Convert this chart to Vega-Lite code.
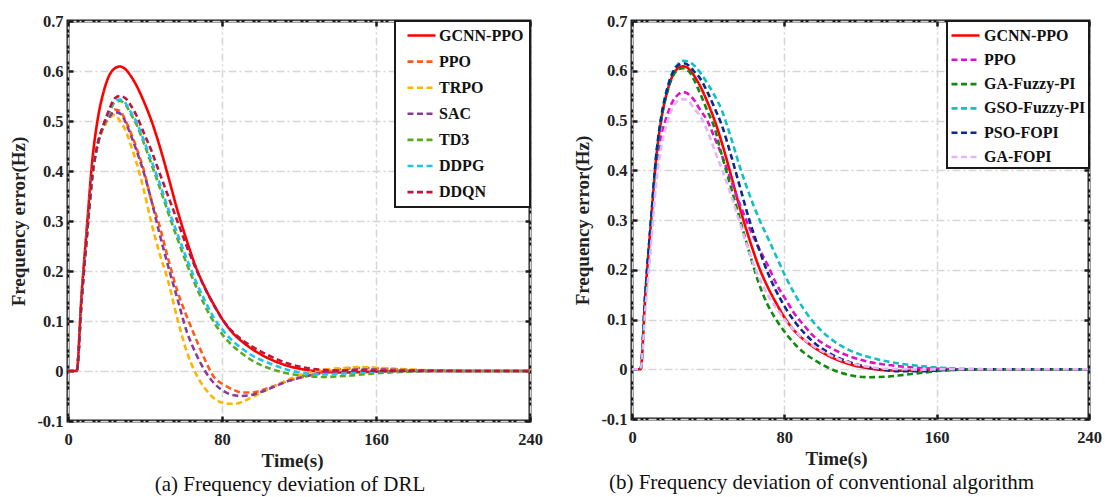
{
  "$schema": "https://vega.github.io/schema/vega-lite/v6.json",
  "background": "white",
  "padding": {"left": 8, "top": 11, "right": 2, "bottom": 2},
  "bounds": "flush",
  "spacing": 102,
  "datasets": {
    "a": [
      {"t":0,"GCNN-PPO":0,"PPO":0,"TRPO":0,"SAC":0,"TD3":0,"DDPG":0,"DDQN":0},
      {"t":4.5,"GCNN-PPO":0,"PPO":0,"TRPO":0,"SAC":0,"TD3":0,"DDPG":0,"DDQN":0},
      {"t":7,"GCNN-PPO":0.15,"PPO":0.14,"TRPO":0.14,"SAC":0.14,"TD3":0.14,"DDPG":0.14,"DDQN":0.14},
      {"t":10,"GCNN-PPO":0.297,"PPO":0.28,"TRPO":0.28,"SAC":0.28,"TD3":0.28,"DDPG":0.28,"DDQN":0.28},
      {"t":12.6,"GCNN-PPO":0.42,"PPO":0.39,"TRPO":0.39,"SAC":0.39,"TD3":0.39,"DDPG":0.39,"DDQN":0.39},
      {"t":15.5,"GCNN-PPO":0.505,"PPO":0.455,"TRPO":0.455,"SAC":0.455,"TD3":0.455,"DDPG":0.455,"DDQN":0.455},
      {"t":18.4,"GCNN-PPO":0.557,"PPO":0.49,"TRPO":0.485,"SAC":0.49,"TD3":0.49,"DDPG":0.49,"DDQN":0.492},
      {"t":21.3,"GCNN-PPO":0.59,"PPO":0.51,"TRPO":0.505,"SAC":0.507,"TD3":0.515,"DDPG":0.518,"DDQN":0.522},
      {"t":24.2,"GCNN-PPO":0.605,"PPO":0.523,"TRPO":0.512,"SAC":0.518,"TD3":0.537,"DDPG":0.54,"DDQN":0.545},
      {"t":27,"GCNN-PPO":0.609,"PPO":0.52,"TRPO":0.5,"SAC":0.515,"TD3":0.54,"DDPG":0.543,"DDQN":0.55},
      {"t":30,"GCNN-PPO":0.603,"PPO":0.5,"TRPO":0.48,"SAC":0.497,"TD3":0.532,"DDPG":0.535,"DDQN":0.545},
      {"t":32.8,"GCNN-PPO":0.589,"PPO":0.475,"TRPO":0.45,"SAC":0.47,"TD3":0.513,"DDPG":0.517,"DDQN":0.53},
      {"t":35.7,"GCNN-PPO":0.57,"PPO":0.445,"TRPO":0.415,"SAC":0.44,"TD3":0.492,"DDPG":0.497,"DDQN":0.51},
      {"t":39.5,"GCNN-PPO":0.538,"PPO":0.4,"TRPO":0.36,"SAC":0.395,"TD3":0.455,"DDPG":0.46,"DDQN":0.475},
      {"t":43.4,"GCNN-PPO":0.5,"PPO":0.34,"TRPO":0.295,"SAC":0.34,"TD3":0.413,"DDPG":0.42,"DDQN":0.44},
      {"t":47.2,"GCNN-PPO":0.455,"PPO":0.295,"TRPO":0.24,"SAC":0.28,"TD3":0.372,"DDPG":0.38,"DDQN":0.4},
      {"t":52,"GCNN-PPO":0.39,"PPO":0.225,"TRPO":0.18,"SAC":0.21,"TD3":0.317,"DDPG":0.325,"DDQN":0.35},
      {"t":56.8,"GCNN-PPO":0.322,"PPO":0.16,"TRPO":0.105,"SAC":0.145,"TD3":0.265,"DDPG":0.275,"DDQN":0.3},
      {"t":61.6,"GCNN-PPO":0.262,"PPO":0.11,"TRPO":0.04,"SAC":0.08,"TD3":0.215,"DDPG":0.225,"DDQN":0.25},
      {"t":66.4,"GCNN-PPO":0.208,"PPO":0.065,"TRPO":-0.005,"SAC":0.035,"TD3":0.17,"DDPG":0.18,"DDQN":0.205},
      {"t":71.2,"GCNN-PPO":0.166,"PPO":0.022,"TRPO":-0.035,"SAC":0,"TD3":0.13,"DDPG":0.14,"DDQN":0.165},
      {"t":76,"GCNN-PPO":0.131,"PPO":-0.013,"TRPO":-0.055,"SAC":-0.025,"TD3":0.096,"DDPG":0.105,"DDQN":0.13},
      {"t":80.8,"GCNN-PPO":0.1,"PPO":-0.027,"TRPO":-0.064,"SAC":-0.04,"TD3":0.07,"DDPG":0.08,"DDQN":0.1},
      {"t":85.6,"GCNN-PPO":0.076,"PPO":-0.037,"TRPO":-0.066,"SAC":-0.048,"TD3":0.05,"DDPG":0.06,"DDQN":0.078},
      {"t":90.4,"GCNN-PPO":0.059,"PPO":-0.043,"TRPO":-0.062,"SAC":-0.05,"TD3":0.035,"DDPG":0.045,"DDQN":0.062},
      {"t":95.2,"GCNN-PPO":0.045,"PPO":-0.043,"TRPO":-0.053,"SAC":-0.048,"TD3":0.022,"DDPG":0.032,"DDQN":0.05},
      {"t":104.8,"GCNN-PPO":0.024,"PPO":-0.033,"TRPO":-0.035,"SAC":-0.035,"TD3":0.005,"DDPG":0.015,"DDQN":0.03},
      {"t":114.4,"GCNN-PPO":0.01,"PPO":-0.02,"TRPO":-0.017,"SAC":-0.02,"TD3":-0.005,"DDPG":0.002,"DDQN":0.015},
      {"t":124,"GCNN-PPO":0.002,"PPO":-0.01,"TRPO":-0.004,"SAC":-0.01,"TD3":-0.01,"DDPG":-0.005,"DDQN":0.006},
      {"t":133.6,"GCNN-PPO":-0.002,"PPO":-0.002,"TRPO":0.003,"SAC":-0.003,"TD3":-0.012,"DDPG":-0.007,"DDQN":0.002},
      {"t":143.2,"GCNN-PPO":-0.003,"PPO":0.004,"TRPO":0.006,"SAC":0.001,"TD3":-0.01,"DDPG":-0.005,"DDQN":0.001},
      {"t":152.8,"GCNN-PPO":-0.002,"PPO":0.006,"TRPO":0.008,"SAC":0.003,"TD3":-0.007,"DDPG":-0.003,"DDQN":0.001},
      {"t":162.4,"GCNN-PPO":-0.001,"PPO":0.005,"TRPO":0.006,"SAC":0.003,"TD3":-0.004,"DDPG":-0.001,"DDQN":0},
      {"t":172,"GCNN-PPO":0,"PPO":0.003,"TRPO":0.004,"SAC":0.002,"TD3":-0.002,"DDPG":0,"DDQN":0},
      {"t":191,"GCNN-PPO":0,"PPO":0.001,"TRPO":0.001,"SAC":0.001,"TD3":0,"DDPG":0,"DDQN":0},
      {"t":210,"GCNN-PPO":0,"PPO":0,"TRPO":0,"SAC":0,"TD3":0,"DDPG":0,"DDQN":0},
      {"t":240,"GCNN-PPO":0,"PPO":0,"TRPO":0,"SAC":0,"TD3":0,"DDPG":0,"DDQN":0}
    ],
    "b": [
      {"t":0,"GCNN-PPO":0,"PPO":0,"GA-Fuzzy-PI":0,"GSO-Fuzzy-PI":0,"PSO-FOPI":0,"GA-FOPI":0},
      {"t":4.5,"GCNN-PPO":0,"PPO":0,"GA-Fuzzy-PI":0,"GSO-Fuzzy-PI":0,"PSO-FOPI":0,"GA-FOPI":0},
      {"t":7,"GCNN-PPO":0.15,"PPO":0.145,"GA-Fuzzy-PI":0.15,"GSO-Fuzzy-PI":0.15,"PSO-FOPI":0.15,"GA-FOPI":0.12},
      {"t":10,"GCNN-PPO":0.297,"PPO":0.285,"GA-Fuzzy-PI":0.297,"GSO-Fuzzy-PI":0.3,"PSO-FOPI":0.3,"GA-FOPI":0.25},
      {"t":12.6,"GCNN-PPO":0.42,"PPO":0.4,"GA-Fuzzy-PI":0.42,"GSO-Fuzzy-PI":0.425,"PSO-FOPI":0.425,"GA-FOPI":0.37},
      {"t":15.5,"GCNN-PPO":0.505,"PPO":0.47,"GA-Fuzzy-PI":0.505,"GSO-Fuzzy-PI":0.51,"PSO-FOPI":0.51,"GA-FOPI":0.45},
      {"t":18.4,"GCNN-PPO":0.557,"PPO":0.51,"GA-Fuzzy-PI":0.555,"GSO-Fuzzy-PI":0.563,"PSO-FOPI":0.562,"GA-FOPI":0.495},
      {"t":21.3,"GCNN-PPO":0.59,"PPO":0.538,"GA-Fuzzy-PI":0.588,"GSO-Fuzzy-PI":0.597,"PSO-FOPI":0.595,"GA-FOPI":0.525},
      {"t":24.2,"GCNN-PPO":0.605,"PPO":0.552,"GA-Fuzzy-PI":0.602,"GSO-Fuzzy-PI":0.614,"PSO-FOPI":0.611,"GA-FOPI":0.54},
      {"t":27,"GCNN-PPO":0.609,"PPO":0.557,"GA-Fuzzy-PI":0.605,"GSO-Fuzzy-PI":0.62,"PSO-FOPI":0.615,"GA-FOPI":0.543},
      {"t":30,"GCNN-PPO":0.603,"PPO":0.552,"GA-Fuzzy-PI":0.598,"GSO-Fuzzy-PI":0.618,"PSO-FOPI":0.61,"GA-FOPI":0.538},
      {"t":32.8,"GCNN-PPO":0.589,"PPO":0.54,"GA-Fuzzy-PI":0.58,"GSO-Fuzzy-PI":0.61,"PSO-FOPI":0.598,"GA-FOPI":0.523},
      {"t":35.7,"GCNN-PPO":0.57,"PPO":0.522,"GA-Fuzzy-PI":0.555,"GSO-Fuzzy-PI":0.597,"PSO-FOPI":0.585,"GA-FOPI":0.51},
      {"t":39.5,"GCNN-PPO":0.538,"PPO":0.5,"GA-Fuzzy-PI":0.52,"GSO-Fuzzy-PI":0.575,"PSO-FOPI":0.558,"GA-FOPI":0.48},
      {"t":43.4,"GCNN-PPO":0.5,"PPO":0.465,"GA-Fuzzy-PI":0.484,"GSO-Fuzzy-PI":0.55,"PSO-FOPI":0.525,"GA-FOPI":0.44},
      {"t":47.2,"GCNN-PPO":0.455,"PPO":0.43,"GA-Fuzzy-PI":0.43,"GSO-Fuzzy-PI":0.52,"PSO-FOPI":0.49,"GA-FOPI":0.402},
      {"t":52,"GCNN-PPO":0.39,"PPO":0.38,"GA-Fuzzy-PI":0.365,"GSO-Fuzzy-PI":0.465,"PSO-FOPI":0.43,"GA-FOPI":0.35},
      {"t":56.8,"GCNN-PPO":0.322,"PPO":0.33,"GA-Fuzzy-PI":0.3,"GSO-Fuzzy-PI":0.405,"PSO-FOPI":0.365,"GA-FOPI":0.292},
      {"t":61.6,"GCNN-PPO":0.262,"PPO":0.285,"GA-Fuzzy-PI":0.235,"GSO-Fuzzy-PI":0.352,"PSO-FOPI":0.3,"GA-FOPI":0.235},
      {"t":66.4,"GCNN-PPO":0.208,"PPO":0.245,"GA-Fuzzy-PI":0.175,"GSO-Fuzzy-PI":0.305,"PSO-FOPI":0.245,"GA-FOPI":0.187},
      {"t":71.2,"GCNN-PPO":0.166,"PPO":0.21,"GA-Fuzzy-PI":0.13,"GSO-Fuzzy-PI":0.265,"PSO-FOPI":0.195,"GA-FOPI":0.15},
      {"t":76,"GCNN-PPO":0.131,"PPO":0.17,"GA-Fuzzy-PI":0.098,"GSO-Fuzzy-PI":0.225,"PSO-FOPI":0.155,"GA-FOPI":0.122},
      {"t":80.8,"GCNN-PPO":0.1,"PPO":0.14,"GA-Fuzzy-PI":0.072,"GSO-Fuzzy-PI":0.185,"PSO-FOPI":0.122,"GA-FOPI":0.097},
      {"t":85.6,"GCNN-PPO":0.076,"PPO":0.11,"GA-Fuzzy-PI":0.05,"GSO-Fuzzy-PI":0.15,"PSO-FOPI":0.095,"GA-FOPI":0.077},
      {"t":90.4,"GCNN-PPO":0.059,"PPO":0.088,"GA-Fuzzy-PI":0.033,"GSO-Fuzzy-PI":0.12,"PSO-FOPI":0.073,"GA-FOPI":0.06},
      {"t":95.2,"GCNN-PPO":0.045,"PPO":0.067,"GA-Fuzzy-PI":0.02,"GSO-Fuzzy-PI":0.095,"PSO-FOPI":0.055,"GA-FOPI":0.047},
      {"t":104.8,"GCNN-PPO":0.024,"PPO":0.042,"GA-Fuzzy-PI":0,"GSO-Fuzzy-PI":0.06,"PSO-FOPI":0.03,"GA-FOPI":0.027},
      {"t":114.4,"GCNN-PPO":0.01,"PPO":0.026,"GA-Fuzzy-PI":-0.012,"GSO-Fuzzy-PI":0.038,"PSO-FOPI":0.014,"GA-FOPI":0.013},
      {"t":124,"GCNN-PPO":0.002,"PPO":0.015,"GA-Fuzzy-PI":-0.016,"GSO-Fuzzy-PI":0.025,"PSO-FOPI":0.004,"GA-FOPI":0.005},
      {"t":133.6,"GCNN-PPO":-0.002,"PPO":0.009,"GA-Fuzzy-PI":-0.015,"GSO-Fuzzy-PI":0.016,"PSO-FOPI":-0.002,"GA-FOPI":0.001},
      {"t":143.2,"GCNN-PPO":-0.003,"PPO":0.005,"GA-Fuzzy-PI":-0.011,"GSO-Fuzzy-PI":0.01,"PSO-FOPI":-0.004,"GA-FOPI":0},
      {"t":152.8,"GCNN-PPO":-0.002,"PPO":0.002,"GA-Fuzzy-PI":-0.007,"GSO-Fuzzy-PI":0.006,"PSO-FOPI":-0.004,"GA-FOPI":-0.001},
      {"t":162.4,"GCNN-PPO":-0.001,"PPO":0.001,"GA-Fuzzy-PI":-0.003,"GSO-Fuzzy-PI":0.003,"PSO-FOPI":-0.002,"GA-FOPI":0},
      {"t":172,"GCNN-PPO":0,"PPO":0,"GA-Fuzzy-PI":-0.001,"GSO-Fuzzy-PI":0.001,"PSO-FOPI":-0.001,"GA-FOPI":0},
      {"t":191,"GCNN-PPO":0,"PPO":0,"GA-Fuzzy-PI":0,"GSO-Fuzzy-PI":0,"PSO-FOPI":0,"GA-FOPI":0},
      {"t":210,"GCNN-PPO":0,"PPO":0,"GA-Fuzzy-PI":0,"GSO-Fuzzy-PI":0,"PSO-FOPI":0,"GA-FOPI":0},
      {"t":240,"GCNN-PPO":0,"PPO":0,"GA-Fuzzy-PI":0,"GSO-Fuzzy-PI":0,"PSO-FOPI":0,"GA-FOPI":0}
    ]
  },
  "config": {
    "font": "Liberation Serif",
    "view": {"stroke": "#1a1a1a", "strokeWidth": 3},
    "axis": {
      "labelFont": "Liberation Serif", "labelFontWeight": "bold", "labelFontSize": 16.5, "labelColor": "#222222",
      "titleFont": "Liberation Serif", "titleFontWeight": "bold", "titleFontSize": 19, "titleColor": "#222222",
      "domain": false, "tickColor": "#1a1a1a", "tickWidth": 2.5, "tickSize": -5,
      "gridColor": "#d6d6d6", "gridDash": [8, 3, 2, 3], "gridWidth": 1.5, "labelFlush": false
    },
    "legend": {
      "orient": "top-right", "offset": 0, "fillColor": "white", "strokeColor": "#1a1a1a", "strokeWidth": 2,
      "labelFont": "Liberation Serif", "labelFontWeight": "bold", "labelFontSize": 16, "labelColor": "#111111",
      "symbolStrokeWidth": 2.6
    }
  },
  "resolve": {
    "scale": {"color": "independent", "strokeDash": "independent"},
    "legend": {"color": "independent", "strokeDash": "independent"}
  },
  "hconcat": [
    {
      "width": 462, "height": 400,
      "title": {"text": "(a) Frequency deviation of DRL", "orient": "bottom", "anchor": "middle", "frame": "group", "font": "Liberation Serif", "fontSize": 21, "fontWeight": "normal", "color": "#111111", "offset": 3, "dx": -9},
      "data": {"name": "a"},
      "transform": [{"fold": ["GCNN-PPO", "PPO", "TRPO", "SAC", "TD3", "DDPG", "DDQN"], "as": ["Method", "Value"]}],
      "layer": [
        {
          "mark": {"type": "line", "strokeWidth": 2.6, "interpolate": "monotone"},
          "encoding": {
            "x": {"field": "t", "type": "quantitative", "scale": {"domain": [0, 240], "nice": false, "zero": false},
                  "axis": {"values": [0, 80, 160, 240], "title": "Time(s)", "labelPadding": 15, "titlePadding": 4, "grid": true, "titleX": 224}},
            "y": {"field": "Value", "type": "quantitative", "scale": {"domain": [-0.1, 0.7], "nice": false, "zero": false},
                  "axis": {"values": [-0.1, 0, 0.1, 0.2, 0.3, 0.4, 0.5, 0.6, 0.7], "title": "Frequency error(Hz)", "labelPadding": 10, "titlePadding": 8, "grid": true,
                           "labelExpr": "datum.value == 0 ? '0' : (datum.value < 0 ? '-' + format(-datum.value, '.1f') : format(datum.value, '.1f'))"}},
            "color": {"field": "Method", "type": "nominal",
                      "scale": {"domain": ["GCNN-PPO", "PPO", "TRPO", "SAC", "TD3", "DDPG", "DDQN"], "range": ["#ff0000", "#ff5c1a", "#ffb400", "#8b3a9c", "#5aaa1e", "#1ec4f0", "#c0143c"]},
                      "legend": {"title": null, "padding": 6, "rowPadding": 9.1, "symbolType": "M-2,0H2", "symbolSize": 196, "symbolOffset": 12, "labelOffset": 9}},
            "strokeDash": {"field": "Method", "type": "nominal",
                      "scale": {"domain": ["GCNN-PPO", "PPO", "TRPO", "SAC", "TD3", "DDPG", "DDQN"], "range": [[1, 0], [6, 3.5], [6, 3.5], [6, 3.5], [6, 3.5], [6, 3.5], [6, 3.5]]},
                      "legend": {"title": null, "padding": 6, "rowPadding": 9.1, "symbolType": "M-2,0H2", "symbolSize": 196, "symbolOffset": 12, "labelOffset": 9}}
          }
        },
        {
          "mark": {"type": "line", "opacity": 0},
          "encoding": {
            "x": {"field": "t", "type": "quantitative", "axis": {"orient": "top", "values": [0, 80, 160, 240], "labels": false, "title": null, "grid": false}},
            "y": {"field": "Value", "type": "quantitative", "axis": {"orient": "right", "values": [-0.1, 0, 0.1, 0.2, 0.3, 0.4, 0.5, 0.6, 0.7], "labels": false, "title": null, "grid": false}},
            "detail": {"field": "Method", "type": "nominal"}
          }
        }
      ],
      "resolve": {"axis": {"x": "independent", "y": "independent"}}
    },
    {
      "width": 457, "height": 398,
      "title": {"text": "(b) Frequency deviation of conventional algorithm", "orient": "bottom", "anchor": "middle", "frame": "group", "font": "Liberation Serif", "fontSize": 21, "fontWeight": "normal", "color": "#111111", "offset": 3, "dx": -39},
      "data": {"name": "b"},
      "transform": [{"fold": ["GCNN-PPO", "PPO", "GA-Fuzzy-PI", "GSO-Fuzzy-PI", "PSO-FOPI", "GA-FOPI"], "as": ["Method", "Value"]}],
      "layer": [
        {
          "mark": {"type": "line", "strokeWidth": 2.6, "interpolate": "monotone"},
          "encoding": {
            "x": {"field": "t", "type": "quantitative", "scale": {"domain": [0, 240], "nice": false, "zero": false},
                  "axis": {"values": [0, 80, 160, 240], "title": "Time(s)", "labelPadding": 15, "titlePadding": 4, "grid": true, "titleX": 204}},
            "y": {"field": "Value", "type": "quantitative", "scale": {"domain": [-0.1, 0.7], "nice": false, "zero": false},
                  "axis": {"values": [-0.1, 0, 0.1, 0.2, 0.3, 0.4, 0.5, 0.6, 0.7], "title": "Frequency error(Hz)", "labelPadding": 10, "titlePadding": 8, "grid": true,
                           "labelExpr": "datum.value == 0 ? '0' : (datum.value < 0 ? '-' + format(-datum.value, '.1f') : format(datum.value, '.1f'))"}},
            "color": {"field": "Method", "type": "nominal",
                      "scale": {"domain": ["GCNN-PPO", "PPO", "GA-Fuzzy-PI", "GSO-Fuzzy-PI", "PSO-FOPI", "GA-FOPI"], "range": ["#ff0000", "#e010c8", "#108a10", "#12c0c0", "#0c2a8a", "#e4b6f4"]},
                      "legend": {"title": null, "padding": 3, "rowPadding": 4.3, "symbolType": "M-1.4,0H1.4", "symbolSize": 400, "symbolOffset": 4, "labelOffset": 7}},
            "strokeDash": {"field": "Method", "type": "nominal",
                      "scale": {"domain": ["GCNN-PPO", "PPO", "GA-Fuzzy-PI", "GSO-Fuzzy-PI", "PSO-FOPI", "GA-FOPI"], "range": [[1, 0], [6, 3.5], [6, 3.5], [6, 3.5], [6, 3.5], [6, 3.5]]},
                      "legend": {"title": null, "padding": 3, "rowPadding": 4.3, "symbolType": "M-1.4,0H1.4", "symbolSize": 400, "symbolOffset": 4, "labelOffset": 7}}
          }
        },
        {
          "mark": {"type": "line", "opacity": 0},
          "encoding": {
            "x": {"field": "t", "type": "quantitative", "axis": {"orient": "top", "values": [0, 80, 160, 240], "labels": false, "title": null, "grid": false}},
            "y": {"field": "Value", "type": "quantitative", "axis": {"orient": "right", "values": [-0.1, 0, 0.1, 0.2, 0.3, 0.4, 0.5, 0.6, 0.7], "labels": false, "title": null, "grid": false}},
            "detail": {"field": "Method", "type": "nominal"}
          }
        }
      ],
      "resolve": {"axis": {"x": "independent", "y": "independent"}}
    }
  ]
}
